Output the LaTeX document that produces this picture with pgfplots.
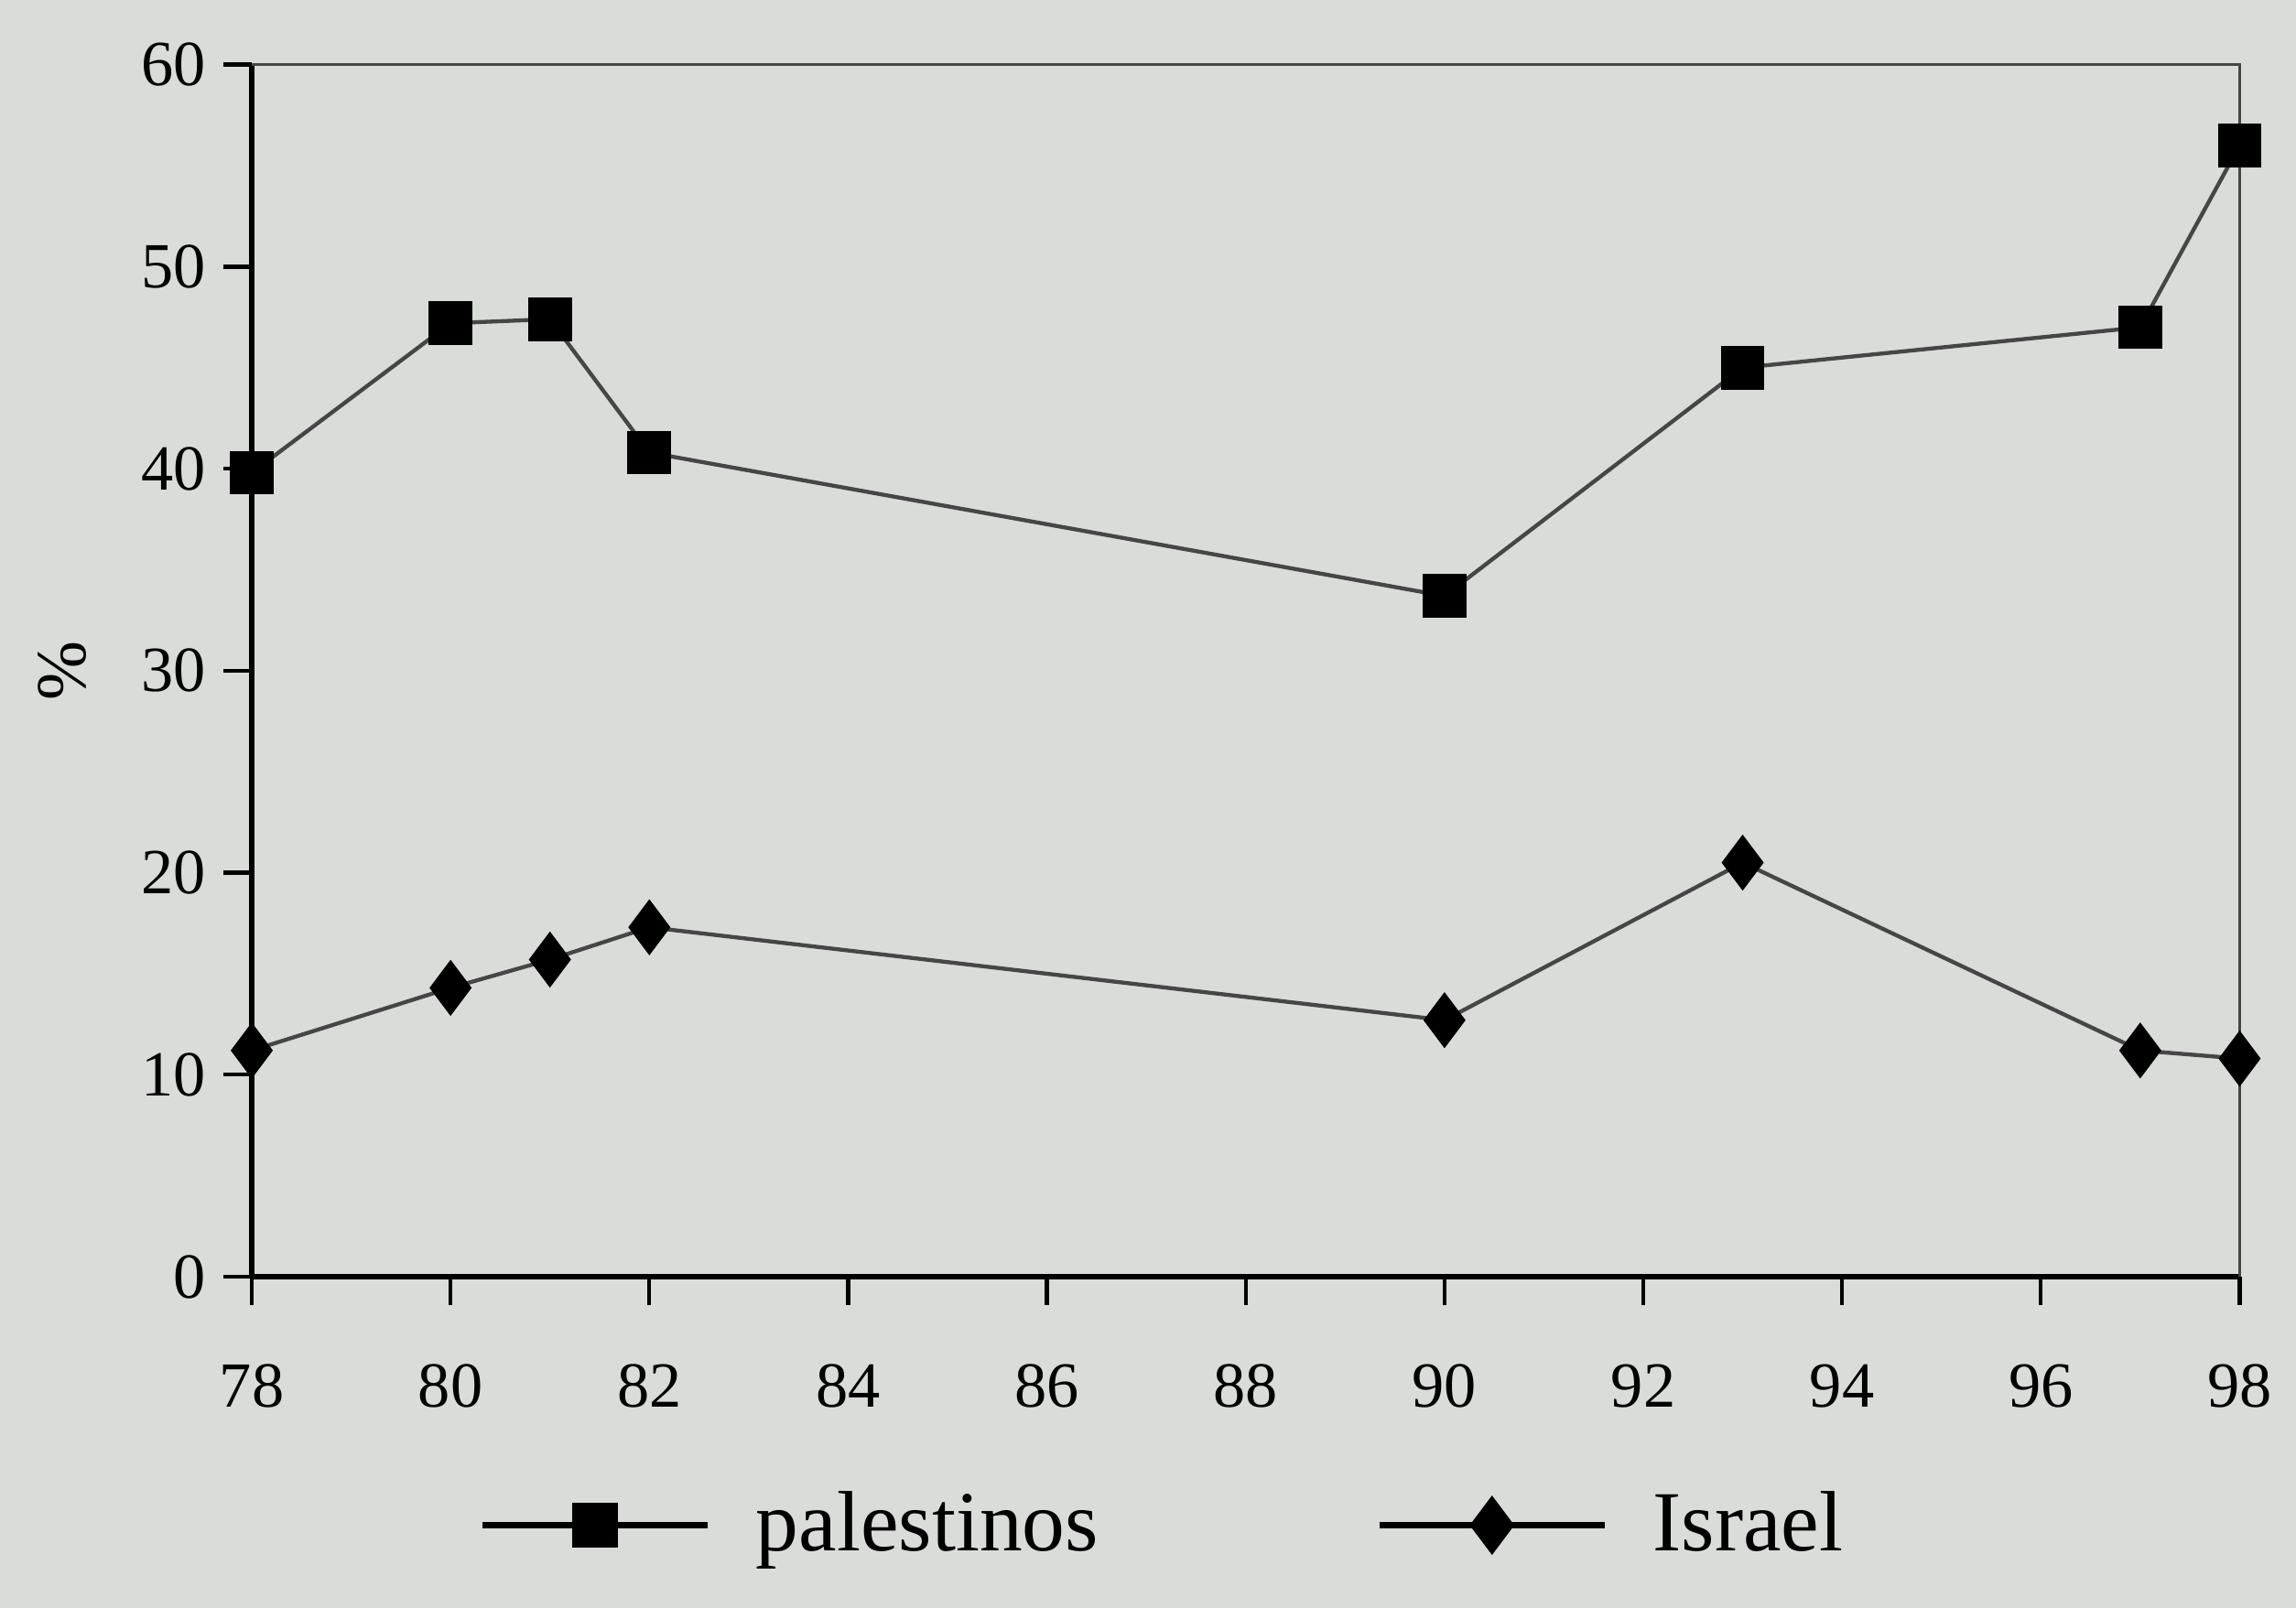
\documentclass[border=0pt]{standalone}
\usepackage{pgfplots}
\pgfplotsset{compat=1.18}
\usepackage{fontspec}
\setmainfont{Liberation Serif}
\usetikzlibrary{backgrounds}
\definecolor{paper}{RGB}{218,220,218}
\definecolor{lin}{RGB}{70,70,70}
\begin{document}
\begin{tikzpicture}[show background rectangle, inner frame sep=0pt,
  background rectangle/.style={fill=paper, draw=none}]
\begin{axis}[
  width=14.1cm, height=8.6cm, scale only axis,
  xmin=78, xmax=98, ymin=0, ymax=60,
  xtick={78,80,...,98}, ytick={0,10,...,60},
  axis x line*=bottom, axis y line*=left,
  axis line style={line width=1.2pt, -},
  tick align=outside, major tick length=0.2cm,
  tick style={black, line width=0.8pt},
  xticklabel style={yshift=-0.3cm},
  ticklabel style={font=\fontsize{13}{15}\selectfont},
  /pgf/number format/assume math mode=true,
  ylabel={\%}, ylabel style={font=\Large, yshift=0.15cm},
  clip=false,
  legend style={at={(0.46,-0.205)}, anchor=center, draw=none, fill=none,
    legend columns=2, font=\LARGE,
    /tikz/every odd column/.append style={column sep=0.25cm},
    /tikz/every even column/.append style={column sep=1.9cm}},
  legend image code/.code={
    \draw[mark repeat=2, mark phase=2] plot coordinates {(0cm,0cm) (0.8cm,0cm) (1.6cm,0cm)};},
  legend image post style={line width=1.2pt, black},
]
\coordinate (bl) at (rel axis cs:0,0);
\coordinate (tr) at (rel axis cs:1,1);
\draw[lin, line width=0.6pt] (rel axis cs:0,1) -- (rel axis cs:1,1) -- (rel axis cs:1,0);
\addplot[lin, line width=0.8pt, mark=square*, mark size=4pt, mark options={black, fill=black}]
  coordinates {(78,39.8) (80,47.2) (81,47.4) (82,40.8) (90,33.7) (93,45) (97,47) (98,56)};
\addlegendentry{palestinos}
\addplot[lin, line width=0.8pt, mark=diamond*, mark size=5pt, mark options={black, fill=black}]
  coordinates {(78,11.2) (80,14.3) (81,15.7) (82,17.3) (90,12.7) (93,20.5) (97,11.2) (98,10.8)};
\addlegendentry{Israel}
\end{axis}
\pgfresetboundingbox
\path[use as bounding box] ([shift={(-1.786cm,-2.35cm)}]bl) rectangle ([shift={(0.4cm,0.459cm)}]tr);
\end{tikzpicture}
\end{document}
